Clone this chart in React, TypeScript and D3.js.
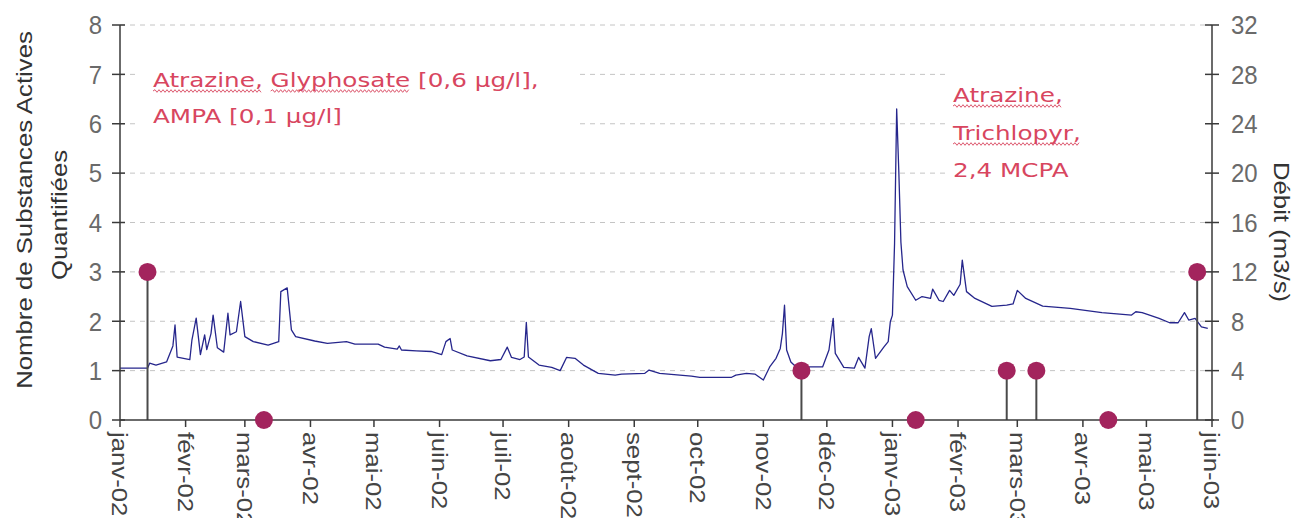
import React from 'react';
import * as d3 from 'd3';

// ---------- data ----------
const monthLabels = [
  'janv-02', 'févr-02', 'mars-02', 'avr-02', 'mai-02', 'juin-02', 'juil-02', 'août-02', 'sept-02',
  'oct-02', 'nov-02', 'déc-02', 'janv-03', 'févr-03', 'mars-03', 'avr-03', 'mai-03', 'juin-03',
];
const leftTicks = [0, 1, 2, 3, 4, 5, 6, 7, 8];
const rightTicks = [0, 4, 8, 12, 16, 20, 24, 28, 32];

// Débit (m3/s)
const flowDates = [
  '2002-01-01', '2002-01-14', '2002-01-15', '2002-01-18', '2002-01-23', '2002-01-26', '2002-01-27', '2002-01-28',
  '2002-02-03', '2002-02-04', '2002-02-06', '2002-02-08', '2002-02-10', '2002-02-11', '2002-02-13', '2002-02-14',
  '2002-02-16', '2002-02-19', '2002-02-21', '2002-02-22', '2002-02-25', '2002-02-27', '2002-03-01', '2002-03-05',
  '2002-03-12', '2002-03-17', '2002-03-18', '2002-03-21', '2002-03-23', '2002-03-25', '2002-04-03', '2002-04-09',
  '2002-04-18', '2002-04-22', '2002-05-03', '2002-05-06', '2002-05-12', '2002-05-13', '2002-05-14', '2002-05-21',
  '2002-05-28', '2002-06-02', '2002-06-04', '2002-06-06', '2002-06-07', '2002-06-14', '2002-06-25', '2002-06-30',
  '2002-07-03', '2002-07-05', '2002-07-09', '2002-07-11', '2002-07-12', '2002-07-13', '2002-07-18', '2002-07-24',
  '2002-07-28', '2002-07-31', '2002-08-04', '2002-08-08', '2002-08-15', '2002-08-23', '2002-08-26', '2002-09-06',
  '2002-09-08', '2002-09-13', '2002-09-28', '2002-10-02', '2002-10-17', '2002-10-19', '2002-10-24', '2002-10-28',
  '2002-11-01', '2002-11-04', '2002-11-07', '2002-11-09', '2002-11-10', '2002-11-11', '2002-11-12', '2002-11-14',
  '2002-11-18', '2002-11-23', '2002-11-29', '2002-12-02', '2002-12-04', '2002-12-05', '2002-12-09', '2002-12-14',
  '2002-12-16', '2002-12-19', '2002-12-21', '2002-12-22', '2002-12-24', '2002-12-28', '2002-12-30', '2002-12-31',
  '2003-01-01', '2003-01-02', '2003-01-03', '2003-01-04', '2003-01-05', '2003-01-06', '2003-01-08', '2003-01-12',
  '2003-01-15', '2003-01-19', '2003-01-20', '2003-01-23', '2003-01-25', '2003-01-28', '2003-01-30', '2003-02-02',
  '2003-02-03', '2003-02-05', '2003-02-09', '2003-02-17', '2003-02-24', '2003-02-27', '2003-03-01', '2003-03-05',
  '2003-03-13', '2003-03-26', '2003-04-10', '2003-04-24', '2003-04-26', '2003-04-29', '2003-05-07', '2003-05-12',
  '2003-05-16', '2003-05-19', '2003-05-21', '2003-05-24', '2003-05-27', '2003-05-30',
];
const flowValues = [
  4.2, 4.2, 4.6, 4.45, 4.7, 6.0, 7.7, 5.1,
  4.9, 6.5, 8.25, 5.3, 6.9, 5.7, 7.0, 8.5,
  5.85, 5.5, 8.65, 6.9, 7.15, 9.6, 6.75, 6.35,
  6.07, 6.35, 10.4, 10.7, 7.3, 6.75, 6.4, 6.2,
  6.35, 6.15, 6.15, 5.9, 5.75, 6.0, 5.67, 5.6,
  5.55, 5.3, 6.35, 6.6, 5.67, 5.2, 4.8, 4.9,
  5.9, 5.07, 4.9, 5.1, 7.9, 5.1, 4.45, 4.27,
  4.0, 5.07, 5.0, 4.45, 3.78, 3.64, 3.72, 3.78,
  4.05, 3.78, 3.56, 3.46, 3.46, 3.64, 3.78, 3.72,
  3.24, 4.3, 5.0, 5.8, 7.0, 9.3, 5.67, 4.7,
  4.05, 4.3, 4.3, 5.67, 8.23, 5.4, 4.27, 4.2,
  5.07, 4.2, 6.75, 7.4, 5.0, 5.93, 6.35, 7.96,
  8.5, 14.3, 25.2, 20.2, 14.4, 12.15, 10.8, 9.7,
  10.0, 9.85, 10.6, 9.7, 9.6, 10.5, 10.1, 11.0,
  12.95, 10.4, 9.85, 9.2, 9.3, 9.4, 10.5, 9.85,
  9.23, 9.05, 8.7, 8.5, 8.77, 8.7, 8.23, 7.88,
  7.88, 8.7, 8.1, 8.23, 7.55, 7.42,
];

// Nombre de substances actives quantifiées
const sampleDates = ['2002-01-14', '2002-03-10', '2002-11-19', '2003-01-12', '2003-02-24', '2003-03-10', '2003-04-13', '2003-05-25'];
const sampleCounts = [3, 0, 1, 0, 1, 1, 0, 3];

const leftNoteLines = ['Atrazine, Glyphosate [0,6 µg/l],', 'AMPA [0,1 µg/l]'];
const leftNoteUnderlined = [['Atrazine,', 'Glyphosate'], []];
const rightNoteLines = ['Atrazine,', 'Trichlopyr,', '2,4 MCPA'];
const rightNoteUnderlined = [['Atrazine,'], ['Trichlopyr,'], []];

// ---------- helpers ----------
const parse = d3.timeParse('%Y-%m-%d');
let ctx: CanvasRenderingContext2D | null = null;
function measure(txt: string, font: string): number {
  if (!ctx) ctx = document.createElement('canvas').getContext('2d');
  if (!ctx) return txt.length * 9;
  ctx.font = font;
  return ctx.measureText(txt).width;
}

function wavy(x0: number, x1: number, y: number): string {
  const p = d3.path();
  p.moveTo(x0, y);
  let up = true;
  for (let x = x0 + 2; x <= x1; x += 2) {
    p.lineTo(x, y + (up ? -1.3 : 1.3));
    up = !up;
  }
  return p.toString();
}

const NOTE_FONT_SIZE = 17;
const NOTE_FONT = `${NOTE_FONT_SIZE}px "DejaVu Sans"`;
const NOTE_COLOR = '#d8465f';

function Note({ x, baselines, lines, underlined, sx, sy }: any) {
  return (
    <g>
      {lines.map((ln: string, i: number) => {
        const y = baselines[i];
        return (
          <g key={i}>
            <g transform={`translate(${x},${y}) scale(${sx},${sy})`}>
              <text x={0} y={0} fontFamily='"DejaVu Sans"' fontSize={NOTE_FONT_SIZE} fill={NOTE_COLOR}>
                {ln}
              </text>
            </g>
            {underlined[i].map((w: string, j: number) => {
              const idx = ln.indexOf(w);
              const a = x + measure(ln.slice(0, idx), NOTE_FONT) * sx;
              const b = x + measure(ln.slice(0, idx + w.length), NOTE_FONT) * sx;
              return <path key={j} d={wavy(a, b, y + 4)} fill="none" stroke={NOTE_COLOR} strokeWidth={0.9} />;
            })}
          </g>
        );
      })}
    </g>
  );
}

export default function App() {
  const W = 1298;
  const H = 518;
  const x0 = 120;
  const x1 = 1212;
  const yTop = 25;
  const yBot = 420;

  const x = d3.scaleTime().domain([new Date(2002, 0, 1), new Date(2003, 5, 1)]).range([x0, x1]);
  const yL = d3.scaleLinear().domain([0, 8]).range([yBot, yTop]);
  const yR = d3.scaleLinear().domain([0, 32]).range([yBot, yTop]);

  const months = d3.timeMonth.range(new Date(2002, 0, 1), new Date(2003, 5, 2));

  const flow = flowDates.map((d, i) => ({ d: parse(d) as Date, v: flowValues[i] }));
  const line = d3
    .line<{ d: Date; v: number }>()
    .x((p) => x(p.d))
    .y((p) => yR(p.v));

  const samples = sampleDates.map((d, i) => ({ d: parse(d) as Date, v: sampleCounts[i] }));

  const sx = 386 / measure(leftNoteLines[0], NOTE_FONT);
  const sy = 1.12;

  const numFont = '"Liberation Sans", Arial, sans-serif';

  return (
    <svg width={W} height={H} style={{ position: 'absolute', left: 0, top: 0, background: '#fff' }}>
      <rect x={0} y={0} width={W} height={H} fill="#fff" />
      {/* gridlines */}
      {leftTicks.filter((t) => t > 0).map((t) => (
        <line key={t} x1={x0} x2={x1} y1={yL(t)} y2={yL(t)} stroke="#c4c4c4" strokeWidth={1} strokeDasharray="5,5" />
      ))}
      {/* annotation boxes */}
      <rect x={135} y={55} width={442} height={85} fill="#fff" />
      <rect x={947} y={55} width={258} height={135} fill="#fff" />

      <Note x={153} baselines={[87, 123]} lines={leftNoteLines} underlined={leftNoteUnderlined} sx={sx} sy={sy} />
      <Note x={953} baselines={[102, 140, 177]} lines={rightNoteLines} underlined={rightNoteUnderlined} sx={sx} sy={sy} />

      {/* flow line */}
      <path d={line(flow) || ''} fill="none" stroke="#26268c" strokeWidth={1.3} strokeLinejoin="round" />

      {/* stems */}
      {samples.filter((s) => s.v > 0).map((s, i) => (
        <line key={i} x1={x(s.d)} x2={x(s.d)} y1={yL(0)} y2={yL(s.v)} stroke="#4a4a4a" strokeWidth={2} />
      ))}

      {/* axes */}
      <line x1={x0} x2={x0} y1={yTop} y2={yBot} stroke="#3a3a3a" strokeWidth={1.5} />
      <line x1={x1} x2={x1} y1={yTop} y2={yBot} stroke="#3a3a3a" strokeWidth={1.5} />
      <line x1={x0} x2={x1 + 2} y1={yBot} y2={yBot} stroke="#3a3a3a" strokeWidth={1.5} />
      {leftTicks.map((t) => (
        <line key={t} x1={x0 - 8} x2={x0 + 5} y1={yL(t)} y2={yL(t)} stroke="#3a3a3a" strokeWidth={1.5} />
      ))}
      {rightTicks.map((t) => (
        <line key={t} x1={x1 - 7} x2={x1 + 7} y1={yR(t)} y2={yR(t)} stroke="#3a3a3a" strokeWidth={1.5} />
      ))}
      {months.map((m, i) => (
        <line key={i} x1={x(m)} x2={x(m)} y1={yBot} y2={yBot + 7} stroke="#3a3a3a" strokeWidth={1.5} />
      ))}

      {/* markers */}
      {samples.map((s, i) => (
        <circle key={i} cx={x(s.d)} cy={yL(s.v)} r={9} fill="#a3245d" />
      ))}

      {/* left tick labels */}
      {leftTicks.map((t) => (
        <g key={t} transform={`translate(102,${yL(t)}) scale(1,1.1)`}>
          <text textAnchor="end" dy="0.35em" fontFamily={numFont} fontSize={24} fill="#6a6a6a">
            {t}
          </text>
        </g>
      ))}
      {/* right tick labels */}
      {rightTicks.map((t) => (
        <g key={t} transform={`translate(1231,${yR(t)}) scale(1,1.1)`}>
          <text textAnchor="start" dy="0.35em" fontFamily={numFont} fontSize={24} fill="#6a6a6a">
            {t}
          </text>
        </g>
      ))}
      {/* month labels */}
      {months.map((m, i) => (
        <g key={i} transform={`translate(${x(m)},432) scale(1,1.17) rotate(90)`}>
          <text textAnchor="start" dy="0.35em" fontFamily={numFont} fontSize={22} fill="#444">
            {monthLabels[i]}
          </text>
        </g>
      ))}

      {/* axis titles */}
      <g transform="translate(24,210) scale(1,1.17) rotate(-90)">
        <text textAnchor="middle" dy="0.35em" fontFamily={numFont} fontSize={22} fill="#333">
          Nombre de Substances Actives
        </text>
      </g>
      <g transform="translate(59,215) scale(1,1.17) rotate(-90)">
        <text textAnchor="middle" dy="0.35em" fontFamily={numFont} fontSize={22} fill="#333">
          Quantifiées
        </text>
      </g>
      <g transform="translate(1282,232) scale(1,1.17) rotate(90)">
        <text textAnchor="middle" dy="0.35em" fontFamily={numFont} fontSize={22} fill="#333">
          Débit (m3/s)
        </text>
      </g>
    </svg>
  );
}
